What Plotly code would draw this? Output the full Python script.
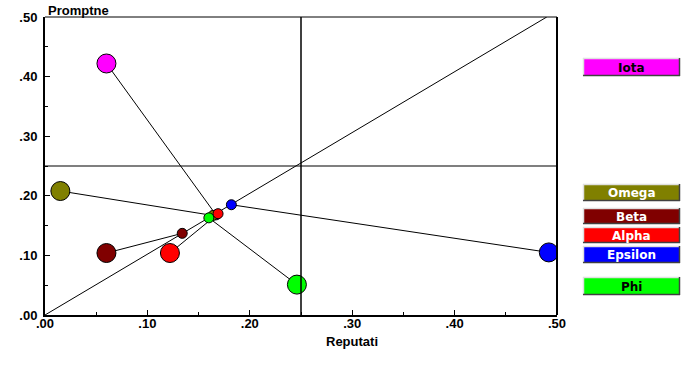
import plotly.graph_objects as go

# ---- data ----
names = ["Iota", "Omega", "Beta", "Alpha", "Epsilon", "Phi"]
colors = ["#FF00FF", "#808000", "#800000", "#FF0000", "#0000FF", "#00FF00"]
text_colors = ["#000000", "#FFFFFF", "#FFFFFF", "#FFFFFF", "#FFFFFF", "#000000"]
x_start = [0.060, 0.015, 0.060, 0.122, 0.492, 0.246]
y_start = [0.422, 0.208, 0.104, 0.104, 0.105, 0.051]
x_end = [0.167, 0.164, 0.134, 0.169, 0.182, 0.160]
y_end = [0.168, 0.167, 0.137, 0.170, 0.185, 0.163]
ref_x = [0.25]
ref_y = [0.25]
diag_x = [0.0, 0.49]
diag_y = [0.0, 0.50]
tick_vals = [0.0, 0.1, 0.2, 0.3, 0.4, 0.5]
tick_text = [".00", ".10", ".20", ".30", ".40", ".50"]
x_title = "Reputati"
y_title = "Promptne"

W, H = 700, 370
ML, MR, MT, MB = 45, 143, 17, 55
PW, PH = W - ML - MR, H - MT - MB


def pxx(p):
    return (p - ML) / PW


def pxy(p):
    return (H - MB - p) / PH


fig = go.Figure()

# diagonal line
fig.add_trace(go.Scatter(x=diag_x, y=diag_y, mode="lines",
                         line=dict(color="#000000", width=1), hoverinfo="skip"))
# connector lines
for i, n in enumerate(names):
    fig.add_trace(go.Scatter(x=[x_start[i], x_end[i]], y=[y_start[i], y_end[i]],
                             mode="lines", line=dict(color="#000000", width=1),
                             hoverinfo="skip"))
# markers
for i, n in enumerate(names):
    fig.add_trace(go.Scatter(x=[x_start[i], x_end[i]], y=[y_start[i], y_end[i]],
                             mode="markers", name=n,
                             marker=dict(size=[19, 10], color=colors[i], opacity=1,
                                         line=dict(color="#000000", width=1))))
# reference lines
fig.add_trace(go.Scatter(x=[ref_x[0], ref_x[0]], y=[0, 0.5], mode="lines",
                         line=dict(color="#000000", width=1.5), hoverinfo="skip"))
fig.add_trace(go.Scatter(x=[0, 0.5], y=[ref_y[0], ref_y[0]], mode="lines",
                         line=dict(color="#000000", width=1.2), hoverinfo="skip"))

tickfont = dict(family="Liberation Sans, Arial", size=13, color="#000000", weight="bold")
axis_common = dict(range=[0, 0.5], tickvals=tick_vals, ticktext=tick_text,
                   showgrid=False, zeroline=False, showline=True, linecolor="#000000",
                   linewidth=2, ticks="inside", ticklen=5, tickwidth=1, tickcolor="#000000",
                   minor=dict(ticks="inside", ticklen=3, dtick=0.05, tickcolor="#000000",
                              tickwidth=1, showgrid=False),
                   tickfont=tickfont, fixedrange=True)

shapes = [
    dict(type="line", xref="paper", yref="paper", x0=0, x1=1, y0=1, y1=1,
         line=dict(color="#000000", width=1)),
    dict(type="line", xref="paper", yref="paper", x0=1, x1=1, y0=0, y1=1,
         line=dict(color="#000000", width=2)),
]
annotations = [
    dict(text="<b>%s</b>" % y_title, xref="paper", yref="paper", x=pxx(46), y=pxy(10),
         xanchor="left", yanchor="middle", showarrow=False,
         font=dict(family="Liberation Sans, Arial", size=13, color="#000000")),
    dict(text="<b>%s</b>" % x_title, xref="paper", yref="paper", x=pxx(352), y=pxy(341),
         xanchor="center", yanchor="middle", showarrow=False,
         font=dict(family="Liberation Sans, Arial", size=13, color="#000000")),
]

# legend buttons (pixel boxes)
box_y = [(58, 76), (184, 201), (208, 224), (227, 243), (246, 263), (277, 295)]
bx0, bx1 = 583, 680
for i, n in enumerate(names):
    y0, y1 = box_y[i]
    shapes.append(dict(type="rect", xref="paper", yref="paper",
                       x0=pxx(bx0), x1=pxx(bx1), y0=pxy(y1), y1=pxy(y0),
                       fillcolor=colors[i], line=dict(width=0)))
    shapes.append(dict(type="line", xref="paper", yref="paper",
                       x0=pxx(bx0), x1=pxx(bx1), y0=pxy(y0 + 0.5), y1=pxy(y0 + 0.5),
                       line=dict(color="#E0E0E0", width=1.5)))
    shapes.append(dict(type="line", xref="paper", yref="paper",
                       x0=pxx(bx0 + 0.5), x1=pxx(bx0 + 0.5), y0=pxy(y1), y1=pxy(y0),
                       line=dict(color="#E0E0E0", width=1.5)))
    shapes.append(dict(type="line", xref="paper", yref="paper",
                       x0=pxx(bx0), x1=pxx(bx1), y0=pxy(y1 - 0.5), y1=pxy(y1 - 0.5),
                       line=dict(color="#404040", width=1.5)))
    shapes.append(dict(type="line", xref="paper", yref="paper",
                       x0=pxx(bx1 - 0.5), x1=pxx(bx1 - 0.5), y0=pxy(y1), y1=pxy(y0),
                       line=dict(color="#404040", width=1.5)))
    annotations.append(dict(text="<b>%s</b>" % n, xref="paper", yref="paper",
                            x=pxx((bx0 + bx1) / 2), y=pxy((y0 + y1) / 2 + 0.5),
                            xanchor="center", yanchor="middle", showarrow=False,
                            font=dict(family="DejaVu Sans", size=12, color=text_colors[i])))

fig.update_layout(
    width=W, height=H,
    margin=dict(l=ML, r=MR, t=MT, b=MB, pad=0, autoexpand=False),
    paper_bgcolor="#FFFFFF", plot_bgcolor="#FFFFFF",
    showlegend=False,
    hovermode=False,
    xaxis=dict(axis_common, ticklabelstandoff=-5),
    yaxis=dict(axis_common, ticklabelstandoff=3),
    shapes=shapes,
    annotations=annotations,
)

fig.write_html("out.html",
               config={"displayModeBar": False, "staticPlot": True},
               post_script="document.body.style.margin='0';document.body.style.padding='0';")
